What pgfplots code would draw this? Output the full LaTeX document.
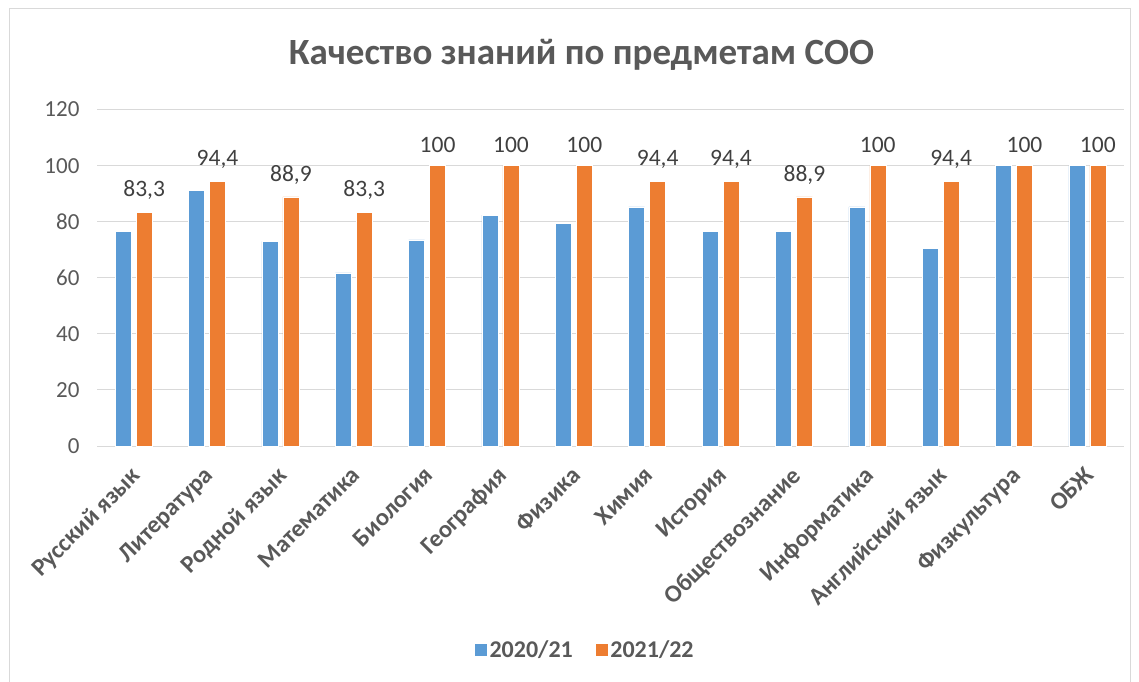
\documentclass[border=0pt]{standalone}
\usepackage{fontspec}
\setmainfont{Carlito}
\usepackage{pgfplots}
\pgfplotsset{compat=1.18}
\definecolor{cblue}{HTML}{5B9BD5}
\definecolor{corange}{HTML}{ED7D31}
\definecolor{ctext}{HTML}{595959}
\definecolor{cgrid}{HTML}{D9D9D9}
\definecolor{clab}{HTML}{404040}
\begin{document}
\begin{tikzpicture}
\useasboundingbox (0pt,0pt) rectangle (1139pt,681pt);
\draw[cgrid, line width=1pt] (9pt,-10pt) rectangle (1130pt,672pt);
\node[font=\fontsize{37}{44}\selectfont\bfseries, text=ctext] at (581.5pt,626pt) {Качество знаний по предметам СОО};
\begin{axis}[
 at={(97pt,235pt)}, anchor=south west,
 width=1027pt, height=336.4pt, scale only axis,
 ybar=5pt, bar width=16pt,
 xmin=-0.5, xmax=13.5, ymin=0, ymax=120,
 xtick={0,...,13},
 xticklabels={Русский язык, Литература, Родной язык, Математика, Биология, География, Физика, Химия, История, Обществознание, Информатика, Английский язык, Физкультура, ОБЖ},
 ytick={0,20,...,120},
 axis line style={draw=none},
 ymajorgrids, grid style={cgrid, line width=1pt},
 major tick style={draw=none},
 x tick label style={yshift=-12pt, xshift=-4pt, rotate=45, anchor=north east, font=\fontsize{24.5}{28}\selectfont\bfseries, text=ctext, inner sep=2pt},
 y tick label style={font=\fontsize{23}{27}\selectfont, text=ctext},
 yticklabel style={xshift=-14pt},
 /pgf/number format/assume math mode=true,
 legend style={at={(0.475,-0.606)}, anchor=center, draw=none, legend columns=2, font=\fontsize{24}{28}\selectfont\bfseries, text=ctext, /tikz/every even column/.append style={column sep=20pt}},
 legend image code/.code={\fill[#1] (0pt,-6.5pt) rectangle (13pt,6.5pt);},
]
\addplot[fill=cblue, draw=white, line width=0.5pt] coordinates {(0,76.5) (1,91.2) (2,73) (3,61.8) (4,73.5) (5,82.4) (6,79.4) (7,85.3) (8,76.5) (9,76.5) (10,85.3) (11,70.6) (12,100) (13,100)};
\addplot[fill=corange, draw=white, line width=0.5pt, nodes near coords, every node near coord/.append style={font=\fontsize{23.5}{27}\selectfont, text=clab, /pgf/number format/use comma, yshift=9pt}] coordinates {(0,83.3) (1,94.4) (2,88.9) (3,83.3) (4,100) (5,100) (6,100) (7,94.4) (8,94.4) (9,88.9) (10,100) (11,94.4) (12,100) (13,100)};
\legend{2020/21, 2021/22}
\end{axis}
\end{tikzpicture}
\end{document}
